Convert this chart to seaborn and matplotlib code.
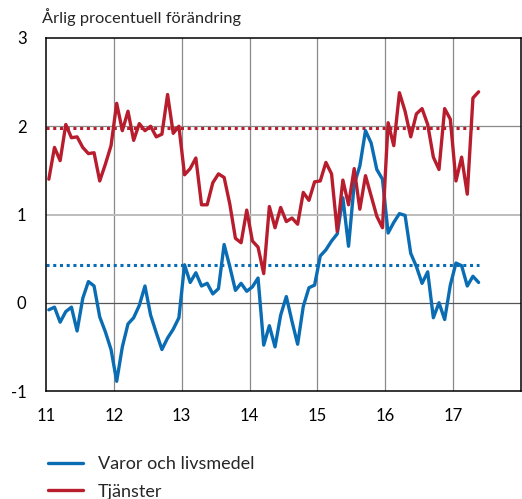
import numpy as np
import pandas as pd
import matplotlib
matplotlib.use("Agg")
import matplotlib.pyplot as plt
import seaborn as sns
from matplotlib.lines import Line2D

# ---- data (monthly, Jan 2011 - May 2017) ----
varor = [-0.08, -0.05, -0.22, -0.10, -0.05, -0.32, 0.05, 0.24, 0.19, -0.16, -0.33, -0.53,
         -0.89, -0.50, -0.24, -0.17, -0.03, 0.19, -0.14, -0.34, -0.53, -0.40, -0.30, -0.17,
         0.43, 0.23, 0.34, 0.19, 0.22, 0.10, 0.16, 0.66, 0.41, 0.14, 0.22, 0.13,
         0.18, 0.28, -0.48, -0.26, -0.50, -0.14, 0.07, -0.21, -0.47, -0.04, 0.17, 0.20,
         0.53, 0.60, 0.70, 0.78, 1.19, 0.64, 1.34, 1.55, 1.95, 1.81, 1.51, 1.40,
         0.79, 0.91, 1.01, 0.99, 0.56, 0.41, 0.22, 0.35, -0.17, 0.00, -0.19, 0.20,
         0.45, 0.42, 0.19, 0.30, 0.23]
tjanster = [1.40, 1.76, 1.61, 2.02, 1.87, 1.88, 1.76, 1.69, 1.70, 1.38, 1.57, 1.78,
            2.26, 1.95, 2.17, 1.84, 2.03, 1.95, 2.00, 1.88, 1.91, 2.36, 1.92, 2.00,
            1.45, 1.52, 1.64, 1.11, 1.11, 1.36, 1.46, 1.42, 1.12, 0.73, 0.68, 1.05,
            0.70, 0.63, 0.33, 1.09, 0.85, 1.08, 0.92, 0.96, 0.89, 1.25, 1.16, 1.37,
            1.38, 1.59, 1.46, 0.81, 1.39, 1.11, 1.52, 1.06, 1.44, 1.21, 0.98, 0.85,
            2.04, 1.78, 2.38, 2.17, 1.88, 2.14, 2.20, 2.02, 1.65, 1.51, 2.20, 2.08,
            1.38, 1.65, 1.23, 2.32, 2.39]
medel_varor = 0.43
medel_tjanster = 1.98
series_names = ["Varor och livsmedel", "Tjänster"]
colors = ["#0a6db3", "#b81d2e"]
year_ticks = [11, 12, 13, 14, 15, 16, 17]
y_ticks = [-1, 0, 1, 2, 3]
subtitle = "Årlig procentuell förändring"

n = len(varor)
x = 11 + (np.arange(n) + 0.5) / 12.0
df = pd.DataFrame({
    "x": np.concatenate([x, x]),
    "value": varor + tjanster,
    "serie": [series_names[0]] * n + [series_names[1]] * n,
})

sns.set_theme(style="white")
plt.rcParams["font.family"] = ["Lato", "DejaVu Sans"]

fig = plt.figure(figsize=(5.22, 4.99), dpi=100)
ax = fig.add_axes([46/522, 1 - 391/499, (521-46)/522, (391-38)/499])

# grid
for xv in year_ticks[1:]:
    ax.axvline(xv, color="#8a8a8a", lw=0.9, zorder=1)
ax.axhline(2, color="#8a8a8a", lw=0.9, zorder=1)
ax.axhline(1, color="#bdbdbd", lw=1.4, zorder=1)
ax.axhline(0, color="#555555", lw=0.9, zorder=1)

# average lines
ax.hlines(medel_tjanster, 11.0, x[-1], colors=colors[1], lw=2.2,
          linestyles=(0, (1, 1.2)), zorder=2)
ax.hlines(medel_varor, 11.0, x[-1], colors=colors[0], lw=2.2,
          linestyles=(0, (1, 1.2)), zorder=2)

sns.lineplot(data=df, x="x", y="value", hue="serie", palette=colors,
             hue_order=series_names, lw=2.4, ax=ax, legend=False, zorder=3)

ax.set_xlim(11, 18)
ax.set_ylim(-1, 3)
ax.set_xticks(year_ticks)
ax.set_xticklabels([str(t) for t in year_ticks])
ax.set_yticks(y_ticks)
ax.set_yticklabels([str(t) for t in y_ticks])
ax.tick_params(axis="both", length=0, labelsize=12, colors="black")
ax.tick_params(axis="y", pad=14)
ax.tick_params(axis="x", pad=12)
ax.set_xlabel("")
ax.set_ylabel("")
for s in ax.spines.values():
    s.set_color("black")
    s.set_linewidth(1.1)
    s.set_visible(True)

fig.text(42/522, 1 - 17/499, subtitle, fontsize=11.8, va="center", ha="left")

handles = [Line2D([], [], color=c, lw=2.4) for c in colors]
fig.legend(handles, series_names, loc="upper left",
           bbox_to_anchor=(48/522, 1 - 456/499), frameon=False,
           fontsize=13, handlelength=1.95, handletextpad=0.8,
           labelspacing=0.65, borderpad=0, borderaxespad=0)

fig.savefig("out.png", dpi=100)
